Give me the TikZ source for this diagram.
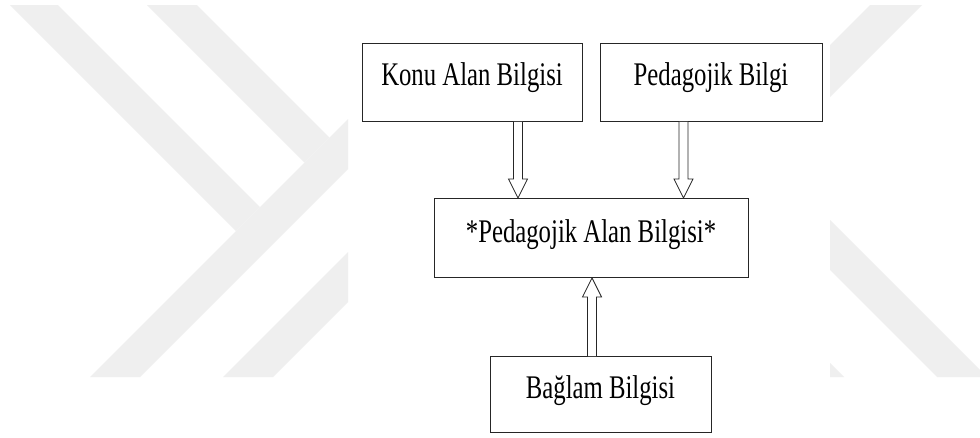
\documentclass[tikz,border=0pt]{standalone}
\usepackage{fontspec}
\setmainfont{Liberation Serif}
\usetikzlibrary{calc}

\definecolor{wmgray}{RGB}{239,239,239}
\definecolor{boxline}{RGB}{38,38,38}

\tikzset{
  box/.style={draw=boxline, line width=0.9pt, rectangle, inner sep=0pt,
    anchor=north, font=\fontsize{33}{40}\selectfont},
  harrow/.style={draw=boxline, line width=0.8pt, fill=white, line join=miter},
  wmark/.style={fill=wmgray, draw=none},
}

% hollow block arrow from #1 to #2 (vertical)
\newcommand{\hollowarrow}[2]{%
  \draw[harrow] let \p1=(#1), \p2=(#2), \n1={sign(\y2-\y1)} in
    (\x1-4.5pt,\y1) -- (\x1-4.5pt,\y2-19*\n1) -- (\x1-9.5pt,\y2-19*\n1)
    -- (\x1,\y2) -- (\x1+9.5pt,\y2-19*\n1) -- (\x1+4.5pt,\y2-19*\n1)
    -- (\x1+4.5pt,\y1);}

\newcommand{\sq}[1]{\scalebox{0.75}[1]{#1}}

\begin{document}
\begin{tikzpicture}[x=1pt, y=-1pt]
  \useasboundingbox (0,0) rectangle (980,437);
  \fill[white] (0,0) rectangle (980,437);

  % background emblem, left part
  \fill[wmark] (90,377) -- (140,377) -- (348,169) -- (348,119) -- cycle;
  \fill[wmark] (10,5) -- (58,5) -- (260,207) -- (236,231) -- cycle;
  \fill[wmark] (147,5) -- (197,5) -- (329.5,137.5) -- (304.5,162.5) -- cycle;
  \fill[wmark] (223,377) -- (273,377) -- (348,302) -- (348,252) -- cycle;
  % background emblem, right part
  \fill[wmark] (870,5) -- (922,5) -- (830,97) -- (830,45) -- cycle;
  \fill[wmark] (830,220) -- (830,270) -- (937,377) -- (980,377) -- (980,370) -- cycle;
  \fill[wmark] (830,363) -- (830,377) -- (844,377) -- cycle;

  % boxes
  \node[box, minimum width=220pt, minimum height=78pt, text height=42pt, text depth=36pt]
    (kab) at (472,43) {\sq{Konu Alan Bilgisi}};
  \node[box, minimum width=222pt, minimum height=78pt, text height=42pt, text depth=36pt]
    (pb) at (711,43) {\sq{Pedagojik Bilgi}};
  \node[box, minimum width=314pt, minimum height=79pt, text height=44pt, text depth=35pt]
    (pab) at (591,198) {\sq{*Pedagojik Alan Bilgisi*}};
  \node[box, minimum width=221pt, minimum height=76pt, text height=42pt, text depth=34pt]
    (bb) at (600.5,356) {\sq{Bağlam Bilgisi}};

  % arrow axes
  \coordinate (ax1) at (518,0);
  \coordinate (ax2) at (683.5,0);
  \coordinate (ax3) at (592,0);

  % connectors
  \hollowarrow{kab.south -| ax1}{pab.north -| ax1}
  \hollowarrow{pb.south -| ax2}{pab.north -| ax2}
  \hollowarrow{bb.north -| ax3}{pab.south -| ax3}
\end{tikzpicture}
\end{document}
